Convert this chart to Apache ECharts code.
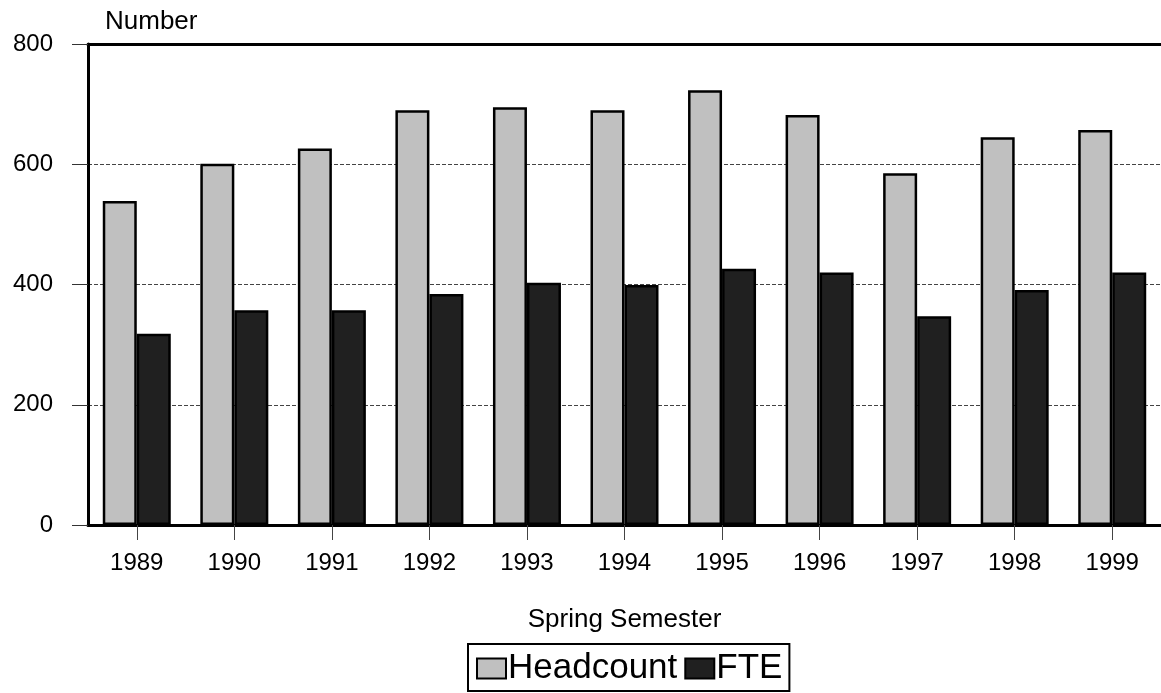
<!DOCTYPE html>
<html>
<head>
<meta charset="utf-8">
<script src="https://cdn.jsdelivr.net/npm/echarts@6/dist/echarts.min.js"></script>
<style>
html,body{margin:0;padding:0;background:#fff;}
#chart{width:1161px;height:693px;}
</style>
</head>
<body>
<div id="chart"></div>
<script>
const categories = ['1989','1990','1991','1992','1993','1994','1995','1996','1997','1998','1999'];
const headcount = [539, 601, 626, 690, 695, 690, 723, 682, 585, 645, 657];
const fte = [318, 357, 357, 384, 403, 399, 426, 420, 347, 391, 420];
const yTicks = [0, 200, 400, 600, 800];

const FONT = '"Liberation Sans", Arial, sans-serif';
const chart = echarts.init(document.getElementById('chart'), null, {renderer: 'canvas'});
chart.setOption({
  animation: false,
  backgroundColor: '#fff',
  textStyle: {fontFamily: FONT, color: '#000'},
  grid: {left: 88, top: 44, width: 1081, height: 481, containLabel: false},
  legend: {
    data: ['Headcount', 'FTE'],
    left: 468, top: 644,
    orient: 'horizontal',
    icon: 'rect',
    itemWidth: 29, itemHeight: 20,
    itemGap: 7,
    padding: [7, 7, 5, 8],
    borderColor: '#000', borderWidth: 2,
    textStyle: {fontFamily: FONT, fontSize: 35, color: '#000', padding: [0, 0, 0, -3]}
  },
  graphic: [{
    type: 'text', left: 105, top: 9,
    style: {text: 'Number', font: '26px ' + FONT, fill: '#000'}
  }],
  xAxis: [{
    type: 'category',
    data: categories,
    position: 'bottom',
    boundaryGap: true,
    axisLine: {show: true, lineStyle: {color: '#000', width: 3}},
    axisTick: {show: true, alignWithLabel: true, length: 15, lineStyle: {color: '#444', width: 1}},
    axisLabel: {fontSize: 24, color: '#000', fontFamily: FONT, margin: 26},
    name: 'Spring Semester',
    nameLocation: 'middle',
    nameGap: 82,
    nameTextStyle: {fontSize: 26, color: '#000', fontFamily: FONT}
  }, {
    type: 'category',
    data: categories,
    position: 'top',
    axisLine: {show: true, lineStyle: {color: '#000', width: 3}},
    axisTick: {show: false},
    axisLabel: {show: false}
  }],
  yAxis: {
    type: 'value',
    min: yTicks[0], max: yTicks[yTicks.length - 1], interval: 200,
    axisLine: {show: true, lineStyle: {color: '#000', width: 3}},
    axisTick: {show: true, length: 16, lineStyle: {color: '#333', width: 1}},
    axisLabel: {fontSize: 24, color: '#000', fontFamily: FONT, margin: 35},
    splitLine: {show: true, lineStyle: {color: '#444', width: 1, type: [4, 2]}}
  },
  series: [{
    name: 'Headcount', type: 'bar', data: headcount,
    barWidth: 34, barGap: '0%',
    itemStyle: {color: '#c0c0c0', borderColor: '#000', borderWidth: 2.5}
  }, {
    name: 'FTE', type: 'bar', data: fte,
    barWidth: 34, barGap: '0%',
    itemStyle: {color: '#202020', borderColor: '#000', borderWidth: 2.5}
  }]
});
</script>
</body>
</html>
